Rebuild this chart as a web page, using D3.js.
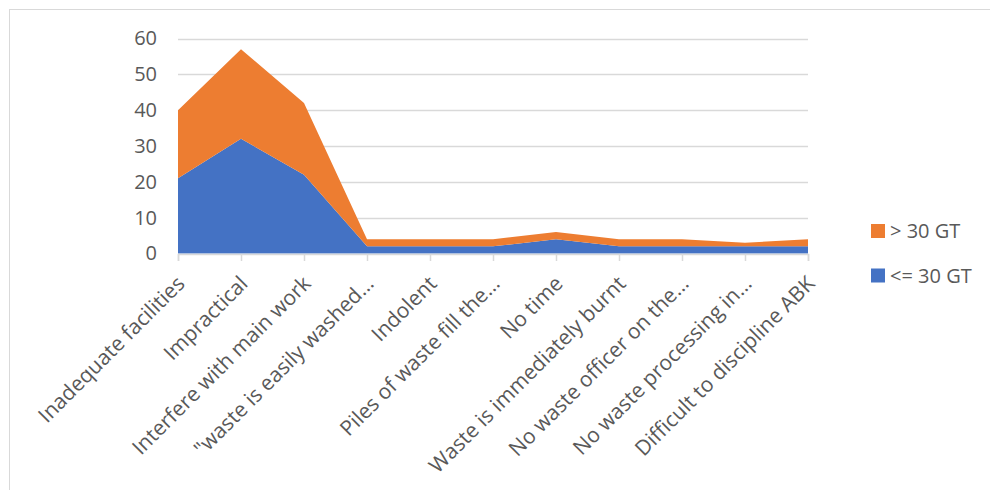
<!DOCTYPE html>
<html>
<head>
<meta charset="utf-8">
<script src="https://cdn.jsdelivr.net/npm/d3@7"></script>
<style>
  body { margin: 0; background: #fff; }
  text { font-family: "Open Sans", "Noto Sans", sans-serif; fill: #595959; }
</style>
</head>
<body>
<script>
// chart data
var categories = [
  "Inadequate facilities",
  "Impractical",
  "Interfere with main work",
  "\"waste is easily washed…",
  "Indolent",
  "Piles of waste fill the…",
  "No time",
  "Waste is immediately burnt",
  "No waste officer on the…",
  "No waste processing in…",
  "Difficult to discipline ABK"
];
var lowGT = [21, 32, 22, 2, 2, 2, 4, 2, 2, 2, 2];   // <= 30 GT
var highGT = [19, 25, 20, 2, 2, 2, 2, 2, 2, 1, 2];  // > 30 GT
var seriesNames = ["<= 30 GT", "> 30 GT"];
var seriesColors = ["#4472C4", "#ED7D31"];
var yTicks = [0, 10, 20, 30, 40, 50, 60];

var width = 990,
	height = 490;

var svg = d3.select("body").append("svg")
	.attr("width", width)
	.attr("height", height);

// outer border of the chart area
svg.append("rect")
	.attr("x", 9.5)
	.attr("y", 9.5)
	.attr("width", 1000)
	.attr("height", 500)
	.attr("fill", "none")
	.attr("stroke", "#d9d9d9");

var rows = categories.map(function(c, i) {
	return { cat: c, low: lowGT[i], high: highGT[i] };
});

var xScale = d3.scalePoint()
	.domain(categories)
	.range([178, 808]);

var yScale = d3.scaleLinear()
	.domain([0, 60])
	.range([253.5, 38.5]);

// gridlines
svg.append("g")
	.selectAll("line")
	.data(yTicks.slice(1))
	.enter()
	.append("line")
	.attr("x1", 178)
	.attr("x2", 808)
	.attr("y1", function(d) { return Math.round(yScale(d)) + 0.5; })
	.attr("y2", function(d) { return Math.round(yScale(d)) + 0.5; })
	.attr("stroke", "#d9d9d9")
	.attr("stroke-width", 1.5);

var stack = d3.stack().keys(["low", "high"]);
var layers = stack(rows);

var area = d3.area()
	.x(function(d) { return xScale(d.data.cat); })
	.y0(function(d) { return yScale(d[0]); })
	.y1(function(d) { return yScale(d[1]); });

svg.append("g")
	.selectAll("path")
	.data(layers)
	.enter()
	.append("path")
	.attr("d", area)
	.attr("fill", function(d, i) { return seriesColors[i]; });

// x axis
var xAxis = d3.axisBottom(xScale).tickSize(7).tickFormat("");
var gx = svg.append("g")
	.attr("transform", "translate(0," + 254 + ")")
	.call(xAxis);
gx.select(".domain").attr("stroke", "#d9d9d9").attr("stroke-width", 1.5);
gx.selectAll(".tick line").attr("stroke", "#d9d9d9").attr("stroke-width", 1.5);

svg.append("g")
	.selectAll("text")
	.data(categories)
	.enter()
	.append("text")
	.attr("text-anchor", "end")
	.attr("font-size", "21px")
	.attr("transform", function(d) {
		return "translate(" + (xScale(d) + 8) + "," + 285 + ") rotate(-45)";
	})
	.text(function(d) { return d; });

// y axis
var yAxis = d3.axisLeft(yScale).tickValues(yTicks).tickSize(0).tickPadding(0);
var gy = svg.append("g")
	.attr("transform", "translate(" + 157 + ",0)")
	.call(yAxis);
gy.select(".domain").remove();
gy.selectAll("text")
	.attr("font-size", "20px")
	.attr("font-family", "'Open Sans', sans-serif")
	.attr("fill", "#595959");

// legend
var legendItems = [
	{ name: seriesNames[1], color: seriesColors[1], y: 231 },
	{ name: seriesNames[0], color: seriesColors[0], y: 275.5 }
];
var lg = svg.append("g");
lg.selectAll("rect")
	.data(legendItems)
	.enter()
	.append("rect")
	.attr("x", 871)
	.attr("y", function(d) { return d.y - 7; })
	.attr("width", 14)
	.attr("height", 14)
	.attr("fill", function(d) { return d.color; });
lg.selectAll("text")
	.data(legendItems)
	.enter()
	.append("text")
	.attr("x", 890)
	.attr("y", function(d) { return d.y; })
	.attr("dy", "0.35em")
	.attr("font-size", "20px")
	.text(function(d) { return d.name; });
</script>
</body>
</html>
